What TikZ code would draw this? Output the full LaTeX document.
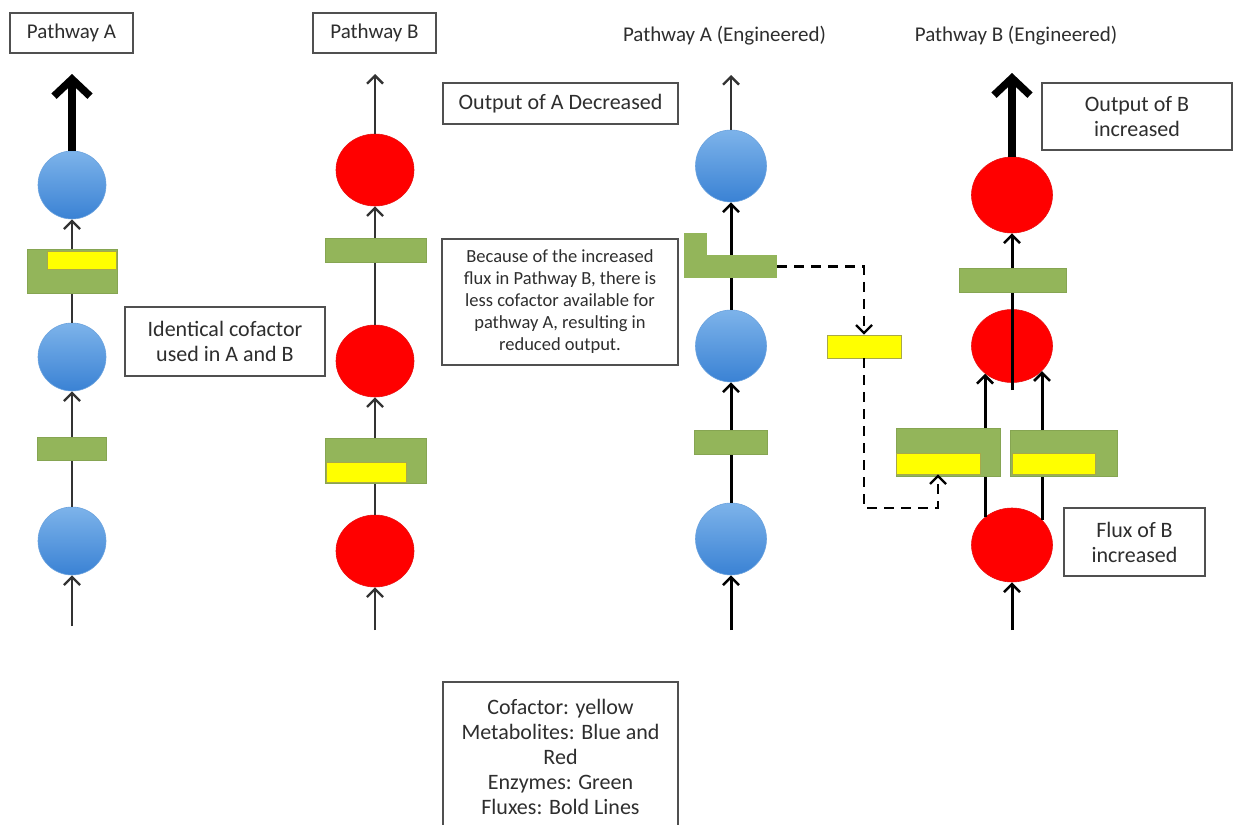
\documentclass[tikz,border=0pt]{standalone}
\usepackage{fontspec}
\setmainfont{Carlito}
\usetikzlibrary{arrows.meta,shapes.geometric}
\definecolor{txt}{HTML}{2E2E2E}
\definecolor{boxc}{HTML}{505050}
\definecolor{bluT}{HTML}{7DB3EA}
\definecolor{bluB}{HTML}{3A82D4}
\definecolor{bluE}{HTML}{6AA2DE}
\definecolor{redF}{HTML}{FF0000}
\definecolor{redE}{HTML}{E81010}
\definecolor{grn}{HTML}{93B55A}
\definecolor{grnE}{HTML}{86A552}
\definecolor{yel}{HTML}{FFFF00}
\definecolor{yelE}{HTML}{A8A84A}
\definecolor{lin}{HTML}{333333}
\tikzset{
 box/.style={draw=boxc, line width=1.4pt, fill=white, text=txt, inner sep=0pt, align=center, font=\fontsize{22}{25}\selectfont},
 ttl/.style={text=txt, inner sep=0pt, font=\fontsize{21}{24}\selectfont},
 metB/.style={ellipse, inner sep=0pt, top color=bluT, bottom color=bluB, draw=bluE, line width=0.6pt},
 metR/.style={ellipse, inner sep=0pt, fill=redF, draw=redE, line width=0.6pt},
 enz/.style={rectangle, inner sep=0pt, fill=grn, draw=grnE, line width=0.5pt},
 cof/.style={rectangle, inner sep=0pt, fill=yel, draw=yelE, line width=0.6pt},
 tarr/.style={line width=2pt, draw=lin, -{Straight Barb[length=8pt,width=16pt,line width=2.4pt]}},
 marr/.style={line width=3pt, draw=black, -{Straight Barb[length=8pt,width=16pt,line width=2.6pt]}},
 barr/.style={line width=7.5pt, draw=black, -{Straight Barb[length=17pt,width=36pt]}},
 dsh/.style={line width=2.8pt, draw=black, dash pattern=on 10pt off 7pt, -{Straight Barb[length=8pt,width=16pt,line width=2.4pt]}},
}
\begin{document}
\begin{tikzpicture}[x=1pt,y=-1pt]
\clip (0,0) rectangle (1235,825);
\fill[white] (0,0) rectangle (1235,825);

% titles
\node[box, font=\fontsize{21}{24}\selectfont, minimum width=123, minimum height=40] (tA) at (71.5,33) {Pathway A};
\node[box, font=\fontsize{21}{24}\selectfont, minimum width=123, minimum height=40] (tB) at (374.5,33) {Pathway B};
\node[ttl] (tEA) at (724.5,36) {Pathway A (Engineered)};
\node[ttl] (tEB) at (1016,36) {Pathway B (Engineered)};

% text boxes
\node[box, minimum width=235, minimum height=41] (outAdec) at (560.5,103.5) {Output of A Decreased};
\node[box, minimum width=200, minimum height=69] (ident) at (225,341.5) {Identical cofactor\\used in A and B};
\node[box, font=\fontsize{18.5}{22}\selectfont, minimum width=236, minimum height=126] (because) at (560,302)
 {Because of the increased\\flux in Pathway B, there is\\less cofactor available for\\pathway A, resulting in\\reduced output.};
\node[box, minimum width=190, minimum height=67] (outBinc) at (1137,116.5) {Output of B\\increased};
\node[box, minimum width=141, minimum height=68] (fluxB) at (1134.5,542) {Flux of B\\increased};
\node[box, minimum width=235, minimum height=150] (legend) at (560.5,757)
 {Cofactor: yellow\\Metabolites: Blue and\\Red\\Enzymes: Green\\Fluxes: Bold Lines};

% metabolites
\node[metB, minimum width=68, minimum height=68] (A1) at (72,185) {};
\node[metB, minimum width=68, minimum height=68] (A2) at (72,357) {};
\node[metB, minimum width=68, minimum height=68] (A3) at (72,541) {};
\node[metR, minimum width=78, minimum height=72] (B1) at (375,170) {};
\node[metR, minimum width=78, minimum height=72] (B2) at (375,361) {};
\node[metR, minimum width=78, minimum height=72] (B3) at (375,551) {};
\node[metB, minimum width=71, minimum height=72] (EA1) at (731,166) {};
\node[metB, minimum width=71, minimum height=72] (EA2) at (731,346) {};
\node[metB, minimum width=71, minimum height=72] (EA3) at (731,539) {};
\node[metR, minimum width=81, minimum height=76] (EB1) at (1012,195) {};
\node[metR, minimum width=81, minimum height=73] (EB2) at (1012,346) {};
\node[metR, minimum width=81, minimum height=74] (EB3) at (1012,545) {};

% free ends
\coordinate (inA) at (72,626);
\coordinate (outA) at (72,74);
\coordinate (inB) at (375,630);
\coordinate (outB) at (375,74);
\coordinate (inEA) at (731,630);
\coordinate (outEA) at (731,75);
\coordinate (inEB) at (1012,630);
\coordinate (outEB) at (1012,73);
\coordinate (EBm) at (1012,390);
\coordinate (EBl) at (985,0);
\coordinate (EBr) at (1042,0);

% pathway A
\draw[tarr] (inA) -- (A3);
\draw[tarr] (A3) -- (A2);
\draw[tarr] (A2) -- (A1);
\draw[barr] (A1) -- (outA);
% pathway B
\draw[tarr] (inB) -- (B3);
\draw[tarr] (B3) -- (B2);
\draw[tarr] (B2) -- (B1);
\draw[tarr] (B1) -- (outB);
% pathway A engineered
\draw[marr] (inEA) -- (EA3);
\draw[marr] (EA3) -- (EA2);
\draw[marr] (EA2) -- (EA1);
\draw[tarr] (EA1) -- (outEA);
% pathway B engineered
\draw[marr] (inEB) -- (EB3);
\draw[marr] (EBl |- EB3.134) -- (EBl |- EB2.226);
\draw[marr] (EBr |- EB3.40) -- (EBr |- EB2.320);
\draw[marr] (EBm) -- (EB1);
\draw[barr] (EB1) -- (outEB);

% enzymes
\node[enz, minimum width=90, minimum height=44] (Ae1) at (72,271) {};
\node[cof, minimum width=69, minimum height=18] (Ac1) at (81.5,260) {};
\node[enz, minimum width=69, minimum height=23] (Ae2) at (71.5,448.5) {};
\node[enz, minimum width=101, minimum height=24] (Be1) at (375.5,250) {};
\node[enz, minimum width=101, minimum height=45] (Be2) at (375.5,460.5) {};
\node[cof, minimum width=80, minimum height=20] (Bc2) at (366,472) {};
\fill[grn] (684,256) rectangle (707,233);
\node[enz, draw=none, minimum width=93, minimum height=23] (EAe1) at (730.5,266.5) {};
\node[enz, minimum width=73, minimum height=24] (EAe2) at (730.5,442) {};
\node[cof, minimum width=74, minimum height=23] (fy) at (864,346.5) {};
\node[enz, minimum width=107, minimum height=24] (EBe1) at (1012.5,280) {};
\node[enz, minimum width=104, minimum height=48] (EBe2L) at (948,452) {};
\node[cof, minimum width=84, minimum height=21] (EBc2L) at (938,463.5) {};
\node[enz, minimum width=107, minimum height=46] (EBe2R) at (1063.5,453) {};
\node[cof, minimum width=83, minimum height=21] (EBc2R) at (1053.5,463.5) {};

% cofactor transfer
\draw[dsh] (EAe1.east) -| (fy.north);
\coordinate (d2) at (864,508);
\draw[dsh] (fy.south) -- (d2) -| (EBc2L.south);
\end{tikzpicture}
\end{document}
